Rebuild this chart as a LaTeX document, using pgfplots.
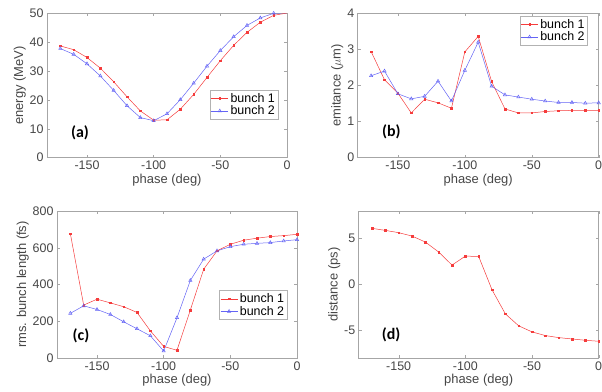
\documentclass[border=0pt]{standalone}
\usepackage{pgfplots}
\pgfplotsset{compat=1.18}
\usepackage{fontspec}
\setmainfont{Liberation Sans}
\newfontfamily\lblfont{Carlito}
\definecolor{bred}{RGB}{245,60,60}
\definecolor{bblue}{RGB}{100,100,245}
\definecolor{axgray}{RGB}{70,70,70}
\pgfplotsset{
  panel/.style={
    scale only axis, width=240bp, height=144.4bp,
    xmin=-180, xmax=0, xtick={-150,-100,-50,0},
    tick align=inside, major tick length=3bp,
    axis line style={gray!70, line width=0.5pt},
    every tick/.style={gray!70, line width=0.4pt},
    tick label style={font=\fontsize{12.5}{13}\selectfont, text=axgray},
    label style={font=\fontsize{13}{14}\selectfont, text=axgray},
    /pgf/number format/assume math mode=true,
    xlabel={phase (deg)},
    xlabel style={yshift=3bp},
    legend style={draw=gray!60, line width=0.5pt, font=\fontsize{12.5}{13}\selectfont, inner sep=1bp, row sep=-2bp, text=black},
    legend cell align=left,
  },
  r1/.style={color=bred, line width=0.5pt, mark=square*, mark size=0.8pt, mark options={solid}},
  b2/.style={color=bblue, line width=0.5pt, mark=triangle, mark size=1.9pt, mark options={solid}},
}
\begin{document}
\begin{tikzpicture}
\useasboundingbox (0,0) rectangle (602bp,392bp);
% (a)
\begin{axis}[panel, at={(47bp,234.3bp)}, anchor=south west,
  ymin=0, ymax=50, ytick={0,10,20,30,40,50}, ylabel={energy (MeV)},
  ylabel style={yshift=-3bp},
  legend style={at={(0.963,0.469)}, anchor=north east}]
\addplot[r1] coordinates {(-170,38.7)(-160,37.4)(-150,34.7)(-140,31.0)(-130,26.3)(-120,21.1)(-110,16.2)(-100,13.0)(-90,13.1)(-80,16.8)(-70,21.9)(-60,27.8)(-50,33.6)(-40,38.9)(-30,43.4)(-20,46.9)(-10,49.3)(0,50.1)};
\addplot[b2] coordinates {(-170,37.8)(-160,35.8)(-150,32.5)(-140,28.3)(-130,23.3)(-120,18.0)(-110,13.9)(-100,12.8)(-90,15.2)(-80,20.1)(-70,25.8)(-60,31.7)(-50,37.1)(-40,41.9)(-30,45.8)(-20,48.4)(-10,50.0)(0,50.2)};
\legend{bunch 1, bunch 2}
\node[font=\lblfont\bfseries\fontsize{16}{18}\selectfont] at (rel axis cs:0.1375,0.175) {(a)};
\end{axis}
% (b)
\begin{axis}[panel, at={(357.7bp,234.3bp)}, anchor=south west, width=241bp,
  ymin=0, ymax=4, ytick={0,1,2,3,4}, ylabel={emitance ($\mu$m)},
  ylabel style={yshift=-3bp},
  legend style={at={(0.955,0.981)}, anchor=north east}]
\addplot[r1] coordinates {(-170,2.94)(-160,2.16)(-150,1.79)(-140,1.24)(-130,1.62)(-120,1.52)(-110,1.37)(-100,2.93)(-90,3.36)(-80,2.11)(-70,1.35)(-60,1.24)(-50,1.24)(-40,1.28)(-30,1.30)(-20,1.31)(-10,1.31)(0,1.31)};
\addplot[b2] coordinates {(-170,2.27)(-160,2.40)(-150,1.77)(-140,1.63)(-130,1.70)(-120,2.12)(-110,1.57)(-100,2.42)(-90,3.20)(-80,1.98)(-70,1.74)(-60,1.68)(-50,1.62)(-40,1.57)(-30,1.53)(-20,1.53)(-10,1.51)(0,1.52)};
\legend{bunch 1, bunch 2}
\node[font=\lblfont\bfseries\fontsize{16}{18}\selectfont] at (rel axis cs:0.14,0.18) {(b)};
\end{axis}
% (c)
\begin{axis}[panel, at={(57bp,34bp)}, anchor=south west, height=147bp,
  ymin=0, ymax=800, ytick={0,200,400,600,800}, ylabel={rms. bunch length (fs)},
  ylabel style={yshift=-3bp},
  legend style={at={(0.96,0.46)}, anchor=north east}]
\addplot[r1] coordinates {(-170,677)(-160,288)(-150,320)(-140,300)(-130,279)(-120,248)(-110,148)(-100,63)(-90,42)(-80,261)(-70,483)(-60,583)(-50,619)(-40,641)(-30,652)(-20,661)(-10,666)(0,673)};
\addplot[b2] coordinates {(-170,243)(-160,284)(-150,264)(-140,237)(-130,197)(-120,159)(-110,121)(-100,38)(-90,219)(-80,422)(-70,538)(-60,583)(-50,606)(-40,619)(-30,624)(-20,628)(-10,637)(0,644)};
\legend{bunch 1, bunch 2}
\node[font=\lblfont\bfseries\fontsize{16}{18}\selectfont] at (rel axis cs:0.10,0.15) {(c)};
\end{axis}
% (d)
\begin{axis}[panel, at={(358.7bp,34bp)}, anchor=south west, height=147bp,
  ymin=-8, ymax=8, ytick={-5,0,5}, ylabel={distance (ps)},
  ylabel style={yshift=-3bp}]
\addplot[r1] coordinates {(-170,6.11)(-160,5.89)(-150,5.64)(-140,5.27)(-130,4.62)(-120,3.53)(-110,2.11)(-100,3.09)(-90,3.05)(-80,-0.58)(-70,-3.2)(-60,-4.5)(-50,-5.16)(-40,-5.56)(-30,-5.78)(-20,-5.93)(-10,-6.07)(0,-6.18)};
\node[font=\lblfont\bfseries\fontsize{16}{18}\selectfont] at (rel axis cs:0.135,0.156) {(d)};
\end{axis}
\end{tikzpicture}
\end{document}
